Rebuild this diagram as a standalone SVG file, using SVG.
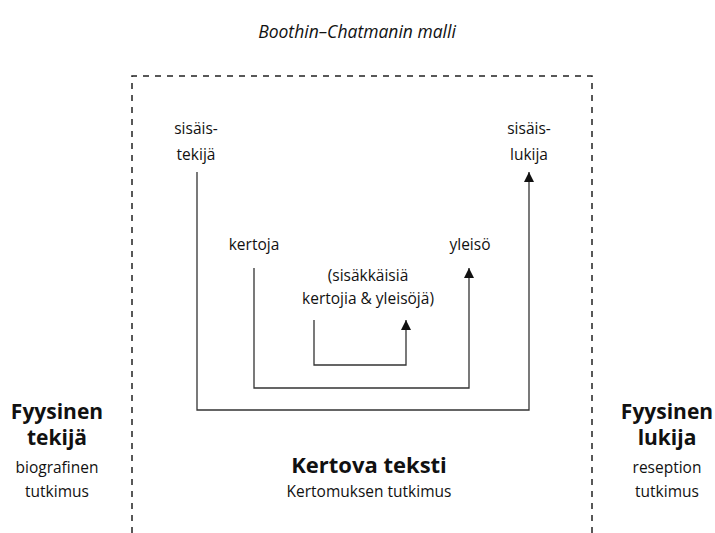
<svg xmlns="http://www.w3.org/2000/svg" width="715" height="533" viewBox="0 0 715 533">
<defs>
<style>
text{font-family:"Open Sans","Noto Sans",sans-serif;font-size:15.5px;fill:#111;text-anchor:middle}
.b{font-weight:bold;font-size:21px}
.k{font-weight:bold;font-size:22px}
.t{font-style:italic;font-size:17.5px}
.dash{fill:none;stroke:#222;stroke-width:1.5;stroke-dasharray:6,6}
.con{fill:none;stroke:#333;stroke-width:1.3}
</style>
<marker id="ah" viewBox="0 0 10 10" refX="10" refY="5" markerWidth="10" markerHeight="12" markerUnits="userSpaceOnUse" orient="auto">
<path d="M0,0 L10,5 L0,10 z" fill="#111"/>
</marker>
</defs>
<rect width="715" height="533" fill="#fff"/>
<text class="t" x="357" y="38">Boothin–Chatmanin malli</text>
<g id="frame">
<path class="dash" d="M132,533 V76 H592 V533"/>
</g>
<g id="connectors">
<path class="con" d="M197,172 V410 H529 V172" marker-end="url(#ah)"/>
<path class="con" d="M254,268 V388 H469 V268" marker-end="url(#ah)"/>
<path class="con" d="M314,320 V365 H406 V320" marker-end="url(#ah)"/>
</g>
<g id="sisaistekija"><text x="196" y="134">sisäis-</text><text x="196" y="160">tekijä</text></g>
<g id="sisaislukija"><text x="529" y="134">sisäis-</text><text x="529" y="160">lukija</text></g>
<g id="kertoja"><text x="254" y="250">kertoja</text></g>
<g id="yleiso"><text x="470" y="250">yleisö</text></g>
<g id="sisakkaisia"><text x="368" y="281">(sisäkkäisiä</text><text x="368" y="304">kertojia &amp; yleisöjä)</text></g>
<g id="fyysinen-tekija"><text class="b" x="57" y="419">Fyysinen</text><text class="b" x="57" y="445">tekijä</text><text x="57" y="473">biografinen</text><text x="57" y="497">tutkimus</text></g>
<g id="fyysinen-lukija"><text class="b" x="667" y="419">Fyysinen</text><text class="b" x="667" y="445">lukija</text><text x="667" y="473">reseption</text><text x="667" y="497">tutkimus</text></g>
<g id="kertova-teksti"><text class="k" x="369" y="473">Kertova teksti</text><text x="369" y="497">Kertomuksen tutkimus</text></g>
</svg>
